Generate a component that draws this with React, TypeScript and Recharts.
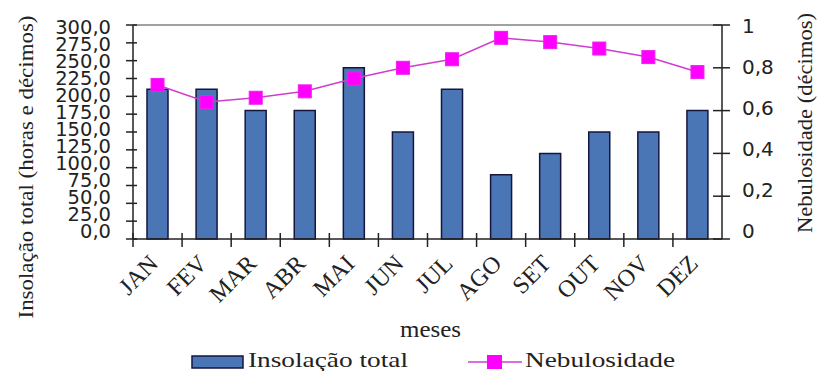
import React from 'react';
import { ComposedChart, Bar, Line, XAxis, YAxis, ReferenceLine, Legend } from 'recharts';

// Monthly totals and cloud cover
const months = ['JAN', 'FEV', 'MAR', 'ABR', 'MAI', 'JUN', 'JUL', 'AGO', 'SET', 'OUT', 'NOV', 'DEZ'];
const insolacao = [210, 210, 180, 180, 240, 150, 210, 90, 120, 150, 150, 180];
const nebulosidade = [0.72, 0.64, 0.66, 0.69, 0.75, 0.8, 0.84, 0.94, 0.92, 0.89, 0.85, 0.78];
const leftTicks = [0, 25, 50, 75, 100, 125, 150, 175, 200, 225, 250, 275, 300];
const rightTicks = [0, 0.2, 0.4, 0.6, 0.8, 1];

const data = months.map((mes, i) => ({ mes, insolacao: insolacao[i], nebulosidade: nebulosidade[i] }));

// Layout
const W = 819;
const H = 371;
const LEFT_AXIS_W = 133;
const RIGHT_AXIS_W = 97;
const TOP = 25;
const PLOT_W = W - LEFT_AXIS_W - RIGHT_AXIS_W;
const BAND = PLOT_W / months.length;

const INK = '#222';
const SERIF = '"Liberation Serif", "Times New Roman", serif';
const SANS = '"DejaVu Sans", Verdana, sans-serif';
const BAR_FILL = '#4a76b6';
const BAR_STROKE = '#15163f';
const LINE_COLOR = '#d03cd0';
const MARKER = '#ff00ff';

const fmtLeft = (v: number) => v.toFixed(1).replace('.', ',');
const fmtRight = (v: number) => (v === 0 || v === 1 ? String(v) : v.toFixed(1).replace('.', ','));

const LeftTick = (props: any) => {
  const { x, y, payload } = props;
  const v = payload.value as number;
  const base = y + 9 - 10 * (300 - v) / 300;
  return (
    <g>
      <line x1={x - 7} x2={x + 4} y1={y} y2={y} stroke={INK} strokeWidth={1.5} />
      <text x={x - 22} y={base} textAnchor="end" fontFamily={SANS} fontSize={19.5} fill={INK}>
        {fmtLeft(v)}
      </text>
    </g>
  );
};

const RightTick = (props: any) => {
  const { x, y, payload } = props;
  const v = payload.value as number;
  const base = y + 8 - 9 * (1 - v);
  return (
    <g>
      <line x1={x - 9} x2={x + 8} y1={y} y2={y} stroke={INK} strokeWidth={1.5} />
      <text x={x + 20} y={base} textAnchor="start" fontFamily={SANS} fontSize={20} fill={INK}>
        {fmtRight(v)}
      </text>
    </g>
  );
};

const MonthTick = (props: any) => {
  const { x, y, payload } = props;
  const tx = x + 2;
  const ty = y + 26;
  return (
    <g>
      <line x1={x - BAND / 2} x2={x - BAND / 2} y1={y - 6} y2={y + 8} stroke={INK} strokeWidth={1.5} />
      <text
        x={tx}
        y={ty}
        textAnchor="end"
        transform={`rotate(-45, ${tx}, ${ty})`}
        fontFamily={SERIF}
        fontSize={24}
        fill={INK}
      >
        {payload.value}
      </text>
    </g>
  );
};

const SquareDot = (props: any) => {
  const { cx, cy, index } = props;
  return <rect key={`dot-${index}`} x={cx - 6.5} y={cy - 6.5} width={13} height={13} fill={MARKER} stroke="#f020f0" strokeWidth={1} />;
};

const LeftTitle = () => (
  <text
    x={33}
    y={167}
    textAnchor="middle"
    transform="rotate(-90, 33, 167)"
    fontFamily={SERIF}
    fontSize={22}
    fill={INK}
    textLength={303}
    lengthAdjust="spacingAndGlyphs"
  >
    Insolação total (horas e décimos)
  </text>
);

const RightTitle = () => (
  <text
    x={812}
    y={123}
    textAnchor="middle"
    transform="rotate(-90, 812, 123)"
    fontFamily={SERIF}
    fontSize={22}
    fill={INK}
    textLength={220}
    lengthAdjust="spacingAndGlyphs"
  >
    Nebulosidade (décimos)
  </text>
);

const XTitle = (props: any) => {
  const { viewBox } = props;
  const cx = viewBox.x + viewBox.width / 2 + 3;
  return (
    <text x={cx} y={337} textAnchor="middle" fontFamily={SERIF} fontSize={24} fill={INK} textLength={61} lengthAdjust="spacingAndGlyphs">
      meses
    </text>
  );
};

const LEGEND_H = 32;
const LEGEND_TOP = H - LEGEND_H;

const renderLegend = () => (
  <svg width={W} height={LEGEND_H} style={{ display: 'block', overflow: 'visible' }}>
    <rect x={192} y={356 - LEGEND_TOP} width={51} height={12} fill={BAR_FILL} stroke={BAR_STROKE} strokeWidth={1.5} />
    <text x={248} y={367 - LEGEND_TOP} fontFamily={SERIF} fontSize={22} fill={INK} textLength={160} lengthAdjust="spacingAndGlyphs">
      Insolação total
    </text>
    <line x1={468} x2={522} y1={362 - LEGEND_TOP} y2={362 - LEGEND_TOP} stroke={LINE_COLOR} strokeWidth={1.5} />
    <rect x={487} y={355 - LEGEND_TOP} width={15} height={14} fill={MARKER} />
    <text x={525} y={367 - LEGEND_TOP} fontFamily={SERIF} fontSize={22} fill={INK} textLength={150} lengthAdjust="spacingAndGlyphs">
      Nebulosidade
    </text>
  </svg>
);

export default function App() {
  return (
    <div style={{ position: 'absolute', left: 0, top: 0, width: W, height: H, background: '#fff' }}>
      <ComposedChart
        width={W}
        height={H}
        data={data}
        margin={{ top: TOP, right: 0, bottom: 0, left: 0 }}
      >
        <XAxis
          dataKey="mes"
          interval={0}
          height={H - TOP - 214 - LEGEND_H}
          tickSize={0}
          tickMargin={0}
          tickLine={false}
          axisLine={{ stroke: INK, strokeWidth: 1.5 }}
          tick={<MonthTick />}
          label={<XTitle />}
        />
        <YAxis
          yAxisId="left"
          orientation="left"
          width={LEFT_AXIS_W}
          domain={[0, 300]}
          ticks={leftTicks}
          interval={0}
          tickSize={0}
          tickMargin={0}
          tickLine={false}
          axisLine={{ stroke: INK, strokeWidth: 1.5 }}
          tick={<LeftTick />}
          label={<LeftTitle />}
        />
        <YAxis
          yAxisId="right"
          orientation="right"
          width={RIGHT_AXIS_W}
          domain={[0, 1]}
          ticks={rightTicks}
          interval={0}
          tickSize={0}
          tickMargin={0}
          tickLine={false}
          axisLine={{ stroke: INK, strokeWidth: 1.5 }}
          tick={<RightTick />}
          label={<RightTitle />}
        />
        <ReferenceLine yAxisId="left" y={300} stroke="#444" strokeWidth={1.2} />
        <Bar
          yAxisId="left"
          dataKey="insolacao"
          name="Insolação total"
          barSize={21}
          fill={BAR_FILL}
          stroke={BAR_STROKE}
          strokeWidth={1.5}
          isAnimationActive={false}
        />
        <Line
          yAxisId="right"
          dataKey="nebulosidade"
          name="Nebulosidade"
          type="linear"
          stroke={LINE_COLOR}
          strokeWidth={1.5}
          dot={<SquareDot />}
          activeDot={false}
          isAnimationActive={false}
        />
        <Legend
          verticalAlign="bottom"
          height={LEGEND_H}
          content={renderLegend}
          wrapperStyle={{ left: 0, width: W, height: LEGEND_H, bottom: 0 }}
        />
      </ComposedChart>
    </div>
  );
}
